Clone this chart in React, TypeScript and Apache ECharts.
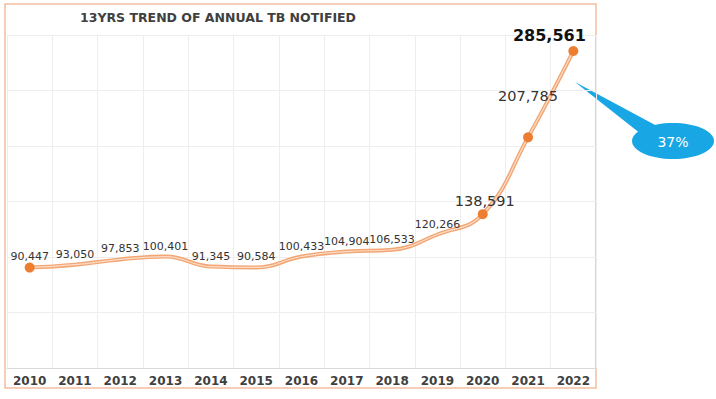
import React, { useEffect, useRef } from "react";
import * as echarts from "echarts";

const years = ["2010", "2011", "2012", "2013", "2014", "2015", "2016", "2017", "2018", "2019", "2020", "2021", "2022"];
const notified = [90447, 93050, 97853, 100401, 91345, 90584, 100433, 104904, 106533, 120266, 138591, 207785, 285561];
const markedYears = ["2010", "2020", "2021", "2022"];
const mediumLabelYears = ["2020", "2021"];
const boldLabelYears = ["2022"];
const yMin = 0;
const yMax = 300000;
const yInterval = 50000;
const titleText = "13YRS TREND OF ANNUAL TB NOTIFIED";
const calloutText = "37%";

const FONT = "DejaVu Sans";

function fmt(v: number) {
  return v.toLocaleString("en-US");
}

export default function App() {
  const ref = useRef<HTMLDivElement>(null);
  useEffect(() => {
    if (!ref.current) return;
    const chart = echarts.init(ref.current, undefined, { renderer: "svg" });

    const labelledData = notified.map((v, i) => {
      const y = years[i];
      const marked = markedYears.includes(y);
      const item: any = { value: v, symbolSize: marked ? 10 : 0 };
      if (boldLabelYears.includes(y)) {
        item.label = { fontSize: 16, fontWeight: "bold", color: "#111", offset: [-24, 2] };
      } else if (mediumLabelYears.includes(y)) {
        item.label = { fontSize: 14.5, color: "#333", offset: y === "2021" ? [0, -24] : [2, 4] };
      } else if (marked) {
        item.label = { offset: [0, 4] };
      }
      return item;
    });

    chart.setOption({
      animation: false,
      grid: { left: 7, right: 120, top: 35, bottom: 31 },
      xAxis: {
        type: "category",
        data: years,
        boundaryGap: true,
        axisLine: { show: true, lineStyle: { color: "#d9d9d9", width: 1 } },
        axisTick: { show: false },
        splitLine: { show: true, lineStyle: { color: "#eeeeee", width: 1 } },
        axisLabel: { fontFamily: FONT, fontSize: 12, fontWeight: "bold", color: "#404040", margin: 7 },
      },
      yAxis: {
        type: "value",
        min: yMin,
        max: yMax,
        interval: yInterval,
        axisLabel: { show: false },
        axisLine: { show: false },
        axisTick: { show: false },
        splitLine: { show: true, lineStyle: { color: "#eeeeee", width: 1 } },
      },
      series: [
        {
          type: "line",
          data: notified,
          smooth: 0.45,
          symbol: "none",
          silent: true,
          lineStyle: { color: "#f2a674", width: 4 },
          z: 2,
        },
        {
          type: "line",
          data: labelledData,
          smooth: 0.45,
          symbol: "circle",
          showSymbol: true,
          showAllSymbol: true,
          itemStyle: { color: "#ed7d31" },
          lineStyle: { color: "#fcdcc6", width: 1.2 },
          emphasis: { disabled: true },
          label: {
            show: true,
            position: "top",
            distance: 5,
            fontFamily: FONT,
            fontSize: 11,
            color: "#333",
            formatter: (p: any) => fmt(p.value),
          },
          z: 3,
        },
      ],
      graphic: [
        {
          type: "rect",
          shape: { x: 5, y: 4, width: 591, height: 384 },
          style: { fill: "none", stroke: "#f4bfa0", lineWidth: 1.5 },
          z: 0,
          silent: true,
        },
        {
          type: "text",
          x: 218,
          y: 17,
          style: {
            text: titleText,
            fontFamily: FONT,
            fontSize: 12.5,
            fontWeight: "bold",
            fill: "#404040",
            textAlign: "center",
            textVerticalAlign: "middle",
          },
        },
        {
          type: "polygon",
          shape: { points: [[575, 82], [657, 126], [641, 134]] },
          style: { fill: "#18a6e4" },
          silent: true,
        },
        {
          type: "ellipse",
          shape: { cx: 673, cy: 141, rx: 41, ry: 18 },
          style: { fill: "#18a6e4" },
          silent: true,
        },
        {
          type: "text",
          x: 673,
          y: 142,
          style: {
            text: calloutText,
            fontFamily: FONT,
            fontSize: 14,
            fill: "#ffffff",
            textAlign: "center",
            textVerticalAlign: "middle",
          },
        },
      ],
    });
    return () => chart.dispose();
  }, []);

  return (
    <div
      ref={ref}
      style={{ position: "fixed", left: 0, top: 0, width: 716, height: 399, background: "#ffffff" }}
    />
  );
}
